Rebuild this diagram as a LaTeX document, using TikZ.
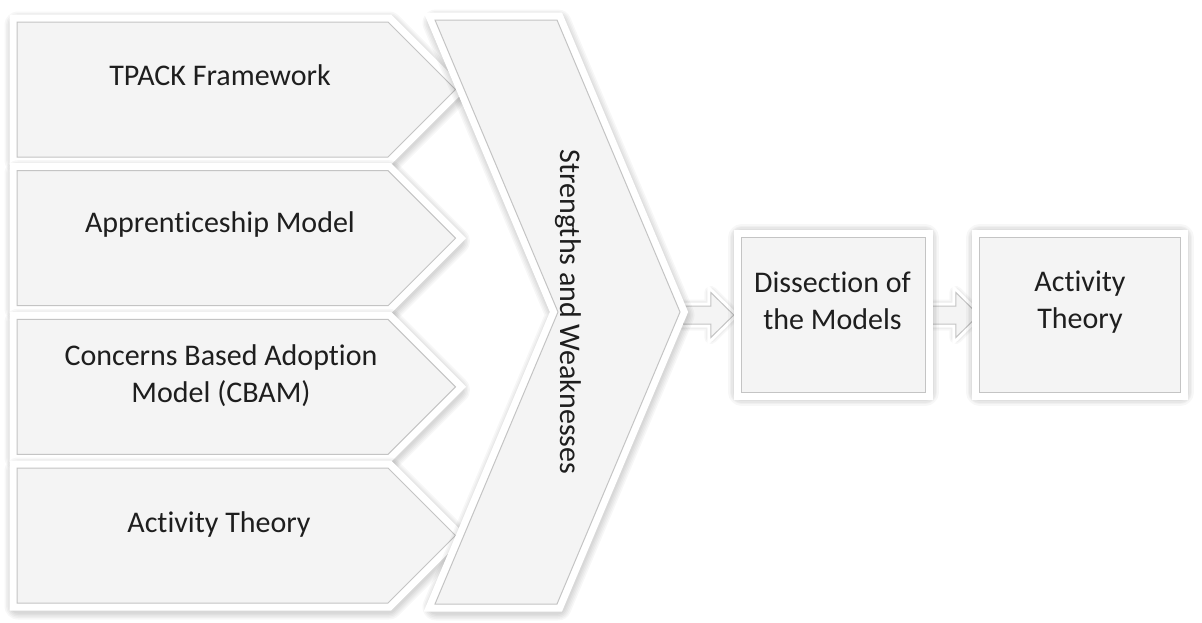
\documentclass[tikz,border=0pt]{standalone}
\usepackage{fontspec}
\setmainfont{Carlito}[Ligatures=NoCommon]
\usetikzlibrary{calc}

\definecolor{panelfill}{HTML}{F4F4F4}
\definecolor{edgegray}{HTML}{C4C4C4}
\definecolor{inkgray}{HTML}{1E1E1E}

\tikzset{
  panel/.style={fill=panelfill, draw=edgegray, line width=1pt, line join=miter},
  rim/.style={draw=white, fill=white, line width=15pt, line join=miter},
  thinrim/.style={draw=white, fill=white, line width=7pt, line join=miter},
  haze/.style={draw=black, fill=black, opacity=0.03, line join=round},
  lbl/.style={font=\fontsize{30}{37}\selectfont, text=inkgray, align=center, inner sep=0pt},
  frame/.style={rectangle, inner sep=0pt},
}

% soft drop shadow, white rim and grey face for one closed outline
\newcommand\tile[1]{%
  \foreach \sw in {15,18,21,24,27}{\path[haze, line width=\sw pt, shift={(1,3)}] #1;}
  \path[rim] #1;
  \path[panel] #1;}

% pentagon arrow whose face ends at y=#1 (135 high)
\newcommand\pentpath[1]{(17,#1-135) -- (388,#1-135) -- (455.5,#1-67.5) -- (388,#1) -- (17,#1) -- cycle}

% small block arrow from point #1 to point #2 (horizontal)
\newcommand\blockarrow[2]{%
  \path let \p1=(#1), \p2=(#2) in
    coordinate (tl) at (\x1,\y1+9pt) coordinate (bl) at (\x1,\y1-9pt)
    coordinate (sh) at (\x2-23pt,\y1+9pt) coordinate (sl) at (\x2-23pt,\y1-9pt)
    coordinate (ht) at (\x2-23pt,\y1+22.5pt) coordinate (hb) at (\x2-23pt,\y1-22.5pt)
    coordinate (tp) at (\x2,\y1);
  \foreach \sw in {7,10,13}{\path[haze, line width=\sw pt, shift={(1,3)}] (tl) -- (sh) -- (ht) -- (tp) -- (hb) -- (sl) -- (bl) -- cycle;}
  \path[thinrim] (tl) -- (sh) -- (ht) -- (tp) -- (hb) -- (sl) -- (bl) -- cycle;
  \path[panel] (tl) -- (sh) -- (ht) -- (tp) -- (hb) -- (sl) -- (bl) -- cycle;}

\begin{document}
\begin{tikzpicture}[x=1pt,y=-1pt]
\useasboundingbox (0,0) rectangle (1202,622);
\fill[white] (0,0) rectangle (1202,622);

% geometry of the two result boxes and the chevron tip
\node[frame, minimum width=183pt, minimum height=154pt] (b1) at (833.5,315) {};
\node[frame, minimum width=200pt, minimum height=154pt] (b2) at (1080,315) {};
\coordinate (ctip) at (683,315);
\coordinate (b1in) at ($(b1.west)+(-8,0)$);
\coordinate (b1out) at ($(b1.east)+(6,0)$);
\coordinate (b2in) at ($(b2.west)+(-1,0)$);

% connectors between the stages
\blockarrow{ctip}{b1in}
\blockarrow{b1out}{b2in}

% the four model arrows
\foreach \yb in {157,305.7,454.3,603}{\tile{\pentpath{\yb}}}

% chevron collecting them
\tile{(435,20) -- (557,20) -- (680,312) -- (557,604) -- (435,604) -- (558,312) -- cycle}

% result boxes
\tile{(b1.north west) -- (b1.north east) -- (b1.south east) -- (b1.south west) -- cycle}
\tile{(b2.north west) -- (b2.north east) -- (b2.south east) -- (b2.south west) -- cycle}

% labels
\node[lbl, anchor=base] (m1) at (220,85) {TPACK Framework};
\node[lbl, anchor=base] (m2) at (220,232) {Apprenticeship Model};
\node[lbl] (m3) at (221,376) {Concerns Based Adoption\\Model (CBAM)};
\node[lbl, anchor=base] (m4) at (219,532) {Activity Theory};
\node[lbl, rotate=-90] (sw) at (568,312) {Strengths and Weaknesses};
\node[lbl] (d1) at ($(b1.center)+(-1,-14)$) {Dissection of\\the Models};
\node[lbl] (d2) at ($(b2.center)+(0,-13)$) {Activity\\Theory};
\end{tikzpicture}
\end{document}
